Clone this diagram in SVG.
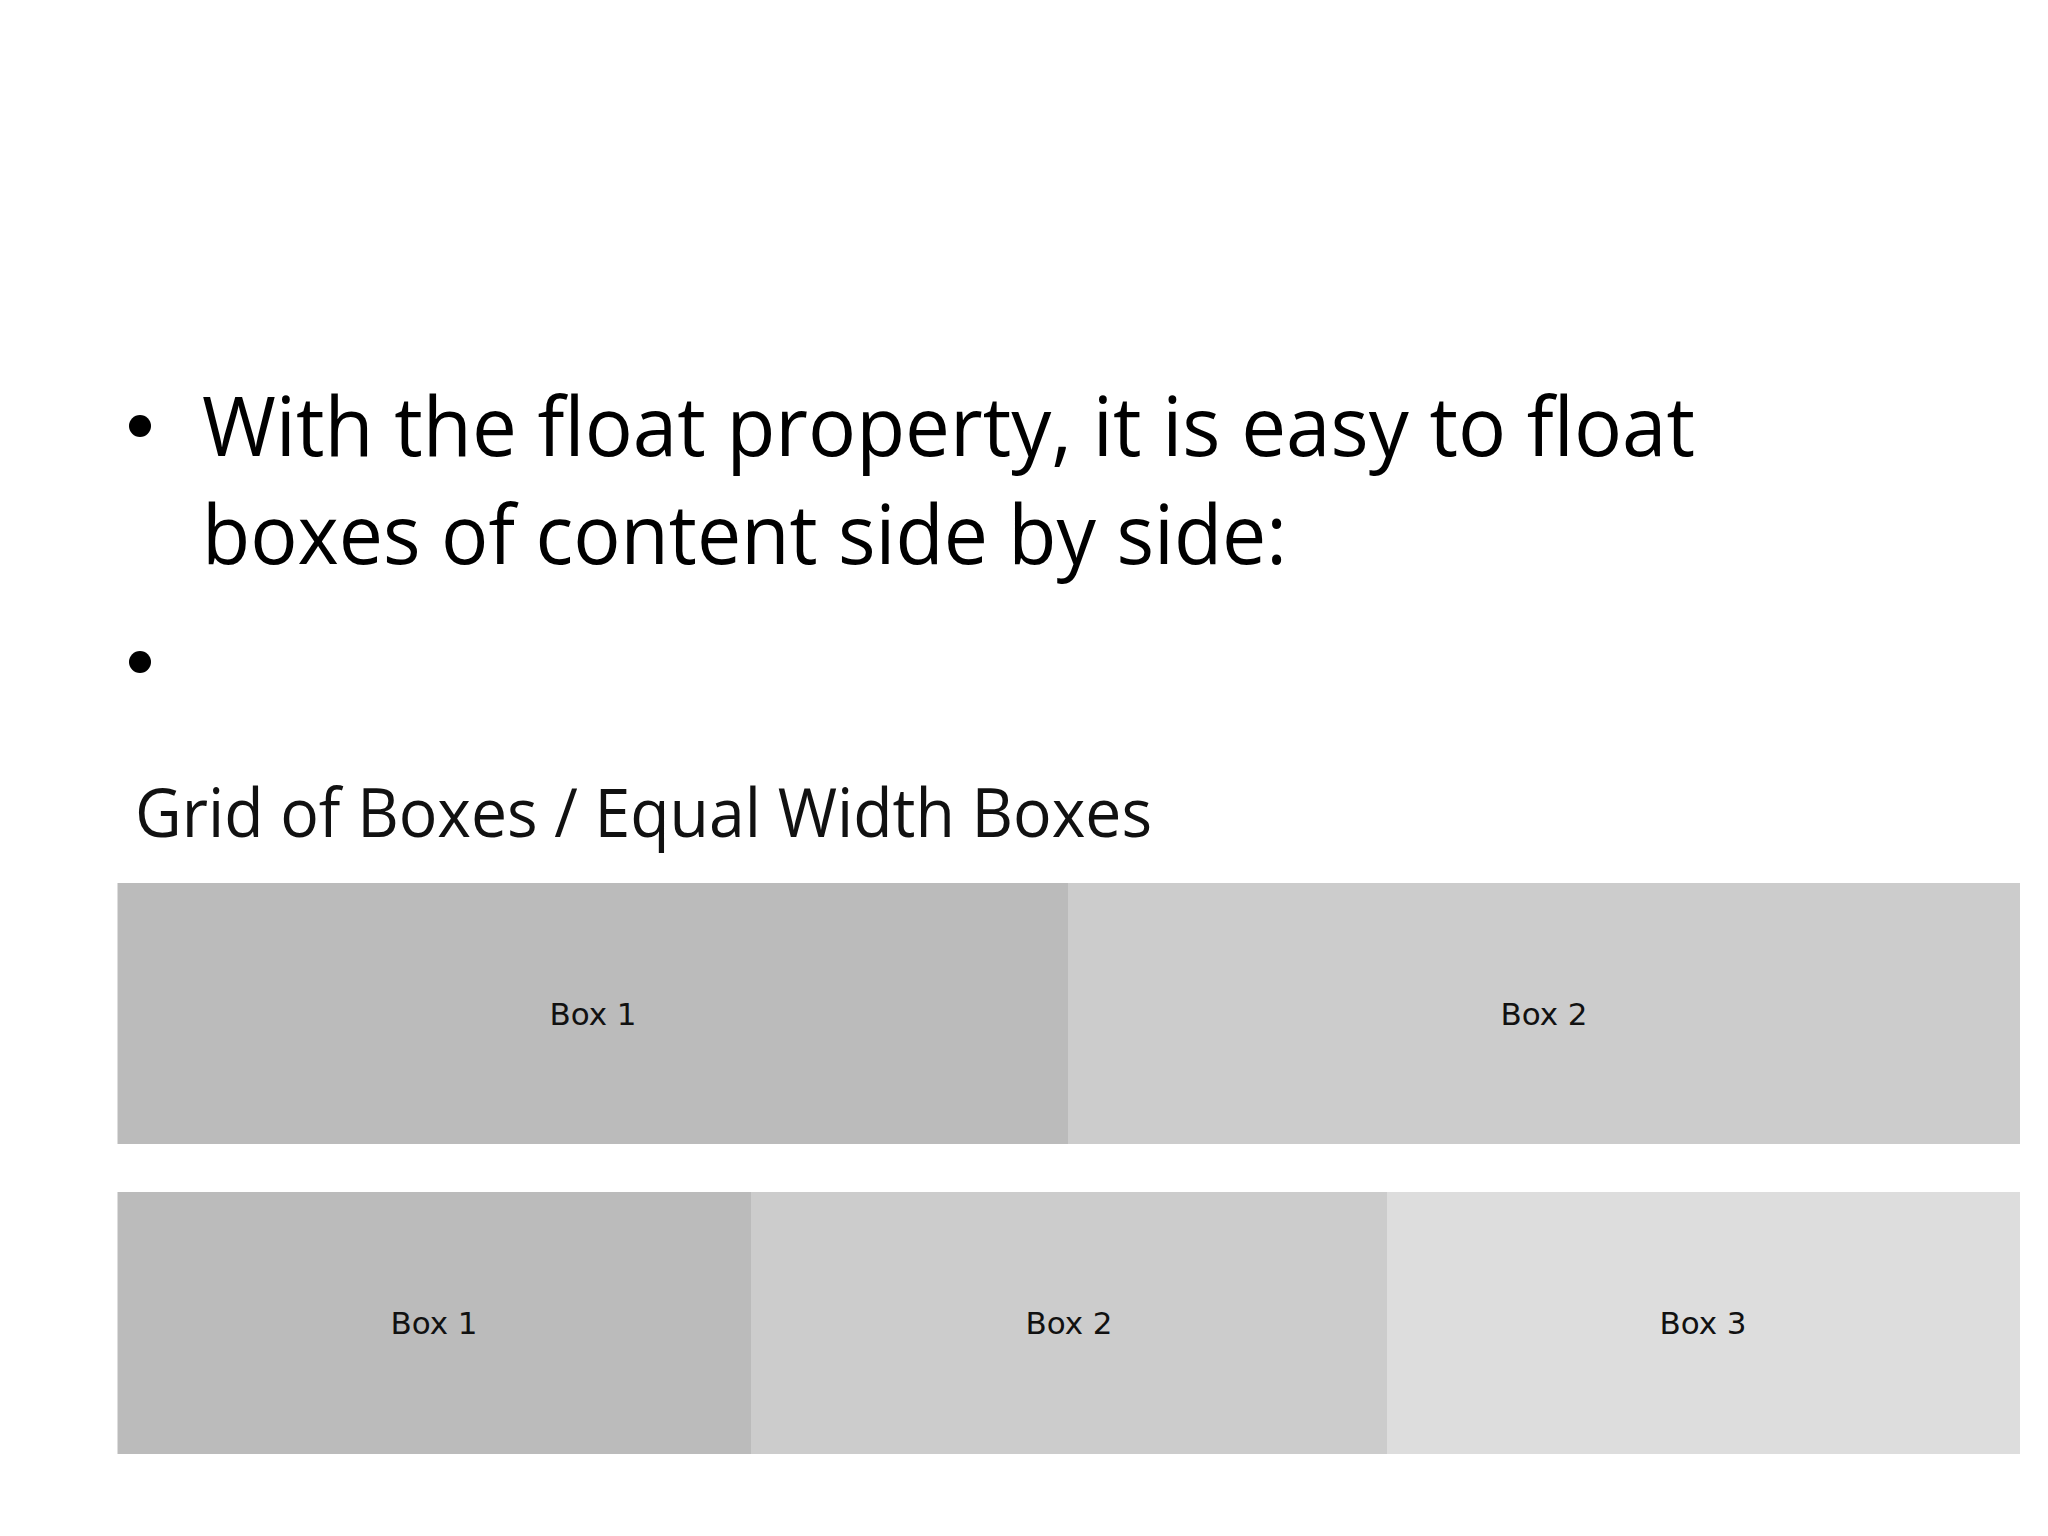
<svg xmlns="http://www.w3.org/2000/svg" width="2048" height="1536" viewBox="0 0 2048 1536">
<style>
.main{font-family:"Open Sans","Liberation Sans",sans-serif;font-size:82px;fill:#000}
.title{font-family:"Open Sans","Liberation Sans",sans-serif;font-size:68px;fill:#111}
.lbl{font-family:"DejaVu Sans","Liberation Sans",sans-serif;font-size:31px;fill:#111;text-anchor:middle}
</style>
<rect width="2048" height="1536" fill="#fff"/>
<g id="bullets">
<circle cx="140" cy="426" r="11" fill="#000"/>
<circle cx="140" cy="662" r="11" fill="#000"/>
<text class="main" x="202" y="456" textLength="1493" lengthAdjust="spacingAndGlyphs">With the float property, it is easy to float</text>
<text class="main" x="202" y="564" textLength="1085" lengthAdjust="spacingAndGlyphs">boxes of content side by side:</text>
</g>
<g id="title"><text class="title" x="135" y="837" textLength="1017" lengthAdjust="spacingAndGlyphs">Grid of Boxes / Equal Width Boxes</text></g>
<g id="row1-box1"><rect x="117.5" y="883" width="950.5" height="261" fill="#bbbbbb"/><text class="lbl" x="593" y="1025">Box 1</text></g>
<g id="row1-box2"><rect x="1068" y="883" width="952" height="261" fill="#cccccc"/><text class="lbl" x="1544" y="1025">Box 2</text></g>
<g id="row2-box1"><rect x="117.5" y="1192" width="633.5" height="262" fill="#bbbbbb"/><text class="lbl" x="434" y="1334">Box 1</text></g>
<g id="row2-box2"><rect x="751" y="1192" width="636" height="262" fill="#cccccc"/><text class="lbl" x="1069" y="1334">Box 2</text></g>
<g id="row2-box3"><rect x="1387" y="1192" width="633" height="262" fill="#dddddd"/><text class="lbl" x="1703" y="1334">Box 3</text></g>
<g id="connectors"/>
</svg>
